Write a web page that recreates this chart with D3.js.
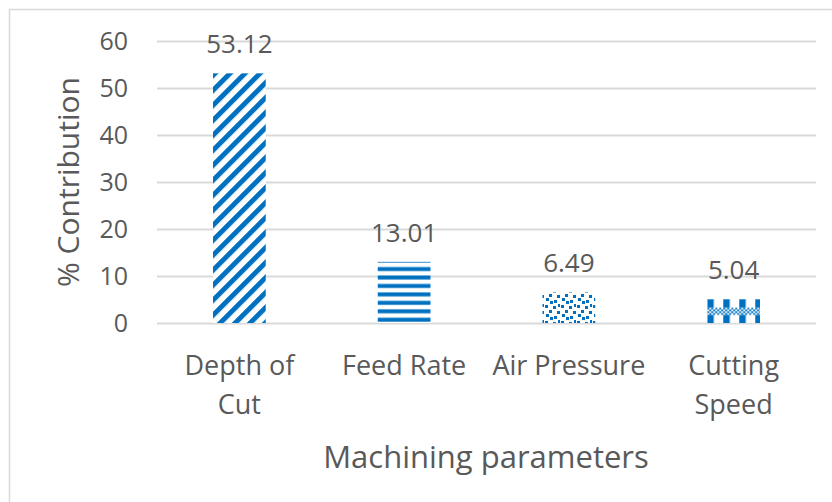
<!DOCTYPE html>
<html>
<head>
<meta charset="utf-8">
<script src="https://cdn.jsdelivr.net/npm/d3@7"></script>
<style>
  body { margin: 0; background: #fff; }
  text { font-family: "Open Sans", Lato, sans-serif; fill: #595959; }
</style>
</head>
<body>
<div id="chart"></div>
<script>
// data
const categories = ["Depth of Cut", "Feed Rate", "Air Pressure", "Cutting Speed"];
const contribution = [53.12, 13.01, 6.49, 5.04];
const yTicks = [0, 10, 20, 30, 40, 50, 60];
const patterns = ["diag", "horiz", "confetti", "checker"];

const W = 832, H = 502;
const blue = "#0070c0";
const font = "'Open Sans', Lato, sans-serif";

const svg = d3.select("#chart")
    .append("svg")
    .attr("width", W)
    .attr("height", H);

// chart border
svg.append("rect")
    .attr("x", 9.5).attr("y", 9.5)
    .attr("width", W + 20).attr("height", H + 20)
    .attr("fill", "none")
    .attr("stroke", "#d9d9d9")
    .attr("stroke-width", 1.5);

// scales
const x = d3.scaleBand()
    .domain(categories)
    .range([157, 816])
    .paddingInner(0.68)
    .paddingOuter(0.34);

const y = d3.scaleLinear()
    .domain([0, 60])
    .range([323, 41]);

// fill patterns
const defs = svg.append("defs");

const pDiag = defs.append("pattern")
    .attr("id", "diag")
    .attr("patternUnits", "userSpaceOnUse")
    .attr("width", 10.6).attr("height", 10.6)
    .attr("patternTransform", "rotate(45)");
pDiag.append("rect").attr("width", 10.6).attr("height", 10.6).attr("fill", "#fff");
pDiag.append("rect").attr("width", 5).attr("height", 10.6).attr("fill", blue);

const pHoriz = defs.append("pattern")
    .attr("id", "horiz")
    .attr("patternUnits", "userSpaceOnUse")
    .attr("width", 8).attr("height", 8.45);
pHoriz.append("rect").attr("width", 8).attr("height", 8.45).attr("fill", "#fff");
pHoriz.append("rect").attr("y", 5.1).attr("width", 8).attr("height", 4).attr("fill", blue);
pHoriz.append("rect").attr("y", 0).attr("width", 8).attr("height", 0.65).attr("fill", blue);

const pConf = defs.append("pattern")
    .attr("id", "confetti")
    .attr("patternUnits", "userSpaceOnUse")
    .attr("width", 16).attr("height", 16);
pConf.append("rect").attr("width", 16).attr("height", 16).attr("fill", "#fff");
[[1, 1], [9, 2], [5, 6], [13, 7], [2, 10], [10, 12], [6, 13], [14, 0]].forEach(d => {
    pConf.append("rect").attr("x", d[0]).attr("y", d[1])
        .attr("width", 3).attr("height", 3).attr("fill", blue);
});

// large checker: blue columns with a small check band, anchored at the bar top
const pCheck = defs.append("pattern")
    .attr("id", "checker")
    .attr("patternUnits", "userSpaceOnUse")
    .attr("x", x("Cutting Speed"))
    .attr("y", y(contribution[3]))
    .attr("width", 16).attr("height", 24);
pCheck.append("rect").attr("width", 16).attr("height", 24).attr("fill", "#fff");
pCheck.append("rect").attr("width", 6.5).attr("height", 8.5).attr("fill", blue);
pCheck.append("rect").attr("y", 15.5).attr("width", 6.5).attr("height", 8.5).attr("fill", blue);
for (let i = 0; i < 8; i++) {
    for (let j = 0; j < 4; j++) {
        if ((i + j) % 2 === 0) {
            pCheck.append("rect").attr("x", i * 2).attr("y", 8.5 + j * 1.75)
                .attr("width", 2).attr("height", 1.75)
                .attr("fill", blue);
        }
    }
}

// gridlines + y labels
const yAxis = svg.append("g")
    .attr("transform", "translate(157,0)")
    .call(d3.axisLeft(y).tickValues(yTicks).tickSize(-(816 - 157)).tickPadding(29));
yAxis.select(".domain").remove();
yAxis.selectAll("line").attr("stroke", "#d9d9d9").attr("stroke-width", 2);
yAxis.selectAll("text")
    .style("font-family", font)
    .style("font-size", "25px")
    .attr("fill", "#595959");

// bars
const bars = categories.map((c, i) => ({ name: c, value: contribution[i], pat: patterns[i] }));

svg.selectAll(".bar")
    .data(bars)
    .enter()
    .append("rect")
    .attr("class", "bar")
    .attr("x", d => x(d.name))
    .attr("y", d => y(d.value))
    .attr("width", x.bandwidth())
    .attr("height", d => y(0) - y(d.value))
    .attr("fill", d => `url(#${d.pat})`);

// data labels
svg.selectAll(".lbl")
    .data(bars)
    .enter()
    .append("text")
    .attr("class", "lbl")
    .attr("x", d => x(d.name) + x.bandwidth() / 2)
    .attr("y", d => y(d.value) - 20)
    .attr("text-anchor", "middle")
    .style("font-size", "26px")
    .text(d => d.value.toFixed(2));

// category labels
const xAxis = svg.append("g")
    .attr("transform", "translate(0,323)")
    .call(d3.axisBottom(x).tickSize(0).tickPadding(0));
xAxis.select(".domain").remove();
xAxis.selectAll("text")
    .style("font-family", font)
    .style("font-size", "27px")
    .attr("fill", "#595959")
    .attr("y", 52)
    .attr("dy", "0em")
    .call(wrap, 155);

function wrap(text, width) {
    text.each(function() {
        var text = d3.select(this),
            words = text.text().split(/\s+/).reverse(),
            word,
            line = [],
            lineNumber = 0,
            lineHeight = 1.44,
            y = text.attr("y"),
            tspan = text.text(null).append("tspan").attr("x", 0).attr("y", y).attr("dy", "0em");
        while (word = words.pop()) {
            line.push(word);
            tspan.text(line.join(" "));
            if (tspan.node().getComputedTextLength() > width) {
                line.pop();
                tspan.text(line.join(" "));
                line = [word];
                tspan = text.append("tspan").attr("x", 0).attr("y", y)
                    .attr("dy", ++lineNumber * lineHeight + "em").text(word);
            }
        }
    });
}

// axis titles
svg.append("text")
    .attr("transform", "translate(79,182) rotate(-90)")
    .attr("text-anchor", "middle")
    .style("font-size", "30px")
    .text("% Contribution");

svg.append("text")
    .attr("x", 486)
    .attr("y", 468)
    .attr("text-anchor", "middle")
    .style("font-size", "31px")
    .text("Machining parameters");
</script>
</body>
</html>
